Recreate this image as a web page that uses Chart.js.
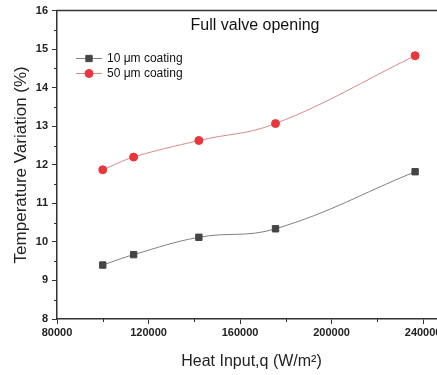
<!DOCTYPE html>
<html>
<head>
<meta charset="utf-8">
<script src="https://cdn.jsdelivr.net/npm/chart.js@4/dist/chart.umd.min.js"></script>
<style>
html, body { margin: 0; padding: 0; background: #fff; overflow: hidden; }
#clip { width: 437px; height: 375px; overflow: hidden; position: relative; }
#wrap { width: 470px; height: 375px; position: absolute; left: 0; top: 0; }
</style>
</head>
<body>
<div id="clip"><div id="wrap"><canvas id="c"></canvas></div></div>
<script>
// ---- data ----
const heatInput = [100000, 113500, 142000, 175500, 236500];
const coating10 = [9.40, 9.67, 10.12, 10.34, 11.82];
const coating50 = [11.87, 12.20, 12.63, 13.07, 14.83];
const seriesNames = ['10 μm coating', '50 μm coating'];
const xTicks = [80000, 120000, 160000, 200000, 240000];
const xMinor = [100000, 140000, 180000, 220000];
const yTicks = [8, 9, 10, 11, 12, 13, 14, 15, 16];
const yMinor = [8.5, 9.5, 10.5, 11.5, 12.5, 13.5, 14.5, 15.5];
const chartTitle = 'Full valve opening';
const xTitle = 'Heat Input,q (W/m²)';
const yTitle = 'Temperature Variation (%)';

const FONT = '"Liberation Sans", Arial, sans-serif';
const AXIS = '#333';
const RED = '#e8363c';
const RED_LINE = '#d98a8c';
const DARK = '#454545';
const DARK_LINE = '#808080';

const toPts = (xs, ys) => xs.map((v, i) => ({ x: v, y: ys[i] }));

const decor = {
  id: 'decor',
  afterDraw(chart) {
    const { ctx, chartArea: a, scales: { x, y } } = chart;
    ctx.save();
    // top frame line
    ctx.strokeStyle = AXIS;
    ctx.lineWidth = 1.5;
    ctx.beginPath();
    ctx.moveTo(a.left - 0.75, a.top);
    ctx.lineTo(a.right, a.top);
    ctx.stroke();
    // minor ticks
    ctx.lineWidth = 1;
    ctx.beginPath();
    xMinor.forEach(v => {
      const px = Math.round(x.getPixelForValue(v)) + 0.5;
      ctx.moveTo(px, a.bottom);
      ctx.lineTo(px, a.bottom + 3);
    });
    yMinor.forEach(v => {
      const py = Math.round(y.getPixelForValue(v)) + 0.5;
      ctx.moveTo(a.left, py);
      ctx.lineTo(a.left - 3, py);
    });
    ctx.stroke();
    // title inside plot
    ctx.fillStyle = '#111';
    ctx.font = '16px ' + FONT;
    ctx.textAlign = 'center';
    ctx.textBaseline = 'middle';
    ctx.fillText(chartTitle, 255, 26);
    // legend
    ctx.font = '12px ' + FONT;
    ctx.textAlign = 'left';
    const rows = [
      { name: seriesNames[0], y: 58, line: DARK_LINE, fill: DARK, style: 'rect', r: 4.5 },
      { name: seriesNames[1], y: 73, line: RED_LINE, fill: RED, style: 'circle', r: 4 }
    ];
    rows.forEach(r => {
      ctx.strokeStyle = r.line;
      ctx.lineWidth = 1;
      ctx.beginPath();
      ctx.moveTo(76, r.y + 0.5);
      ctx.lineTo(102, r.y + 0.5);
      ctx.stroke();
      ctx.fillStyle = r.fill;
      ctx.strokeStyle = r.fill;
      Chart.helpers.drawPoint(ctx, { pointStyle: r.style, radius: r.r, borderWidth: 1, rotation: 0 }, 89, r.y + 0.5);
      ctx.fillStyle = '#111';
      ctx.fillText(r.name, 107, r.y + 1);
    });
    ctx.restore();
  }
};

new Chart(document.getElementById('c'), {
  type: 'line',
  data: {
    datasets: [
      {
        label: seriesNames[0],
        data: toPts(heatInput, coating10),
        borderColor: DARK_LINE,
        borderWidth: 1,
        backgroundColor: DARK,
        pointBackgroundColor: DARK,
        pointBorderColor: DARK,
        pointStyle: 'rect',
        pointRadius: 4.5,
        pointBorderWidth: 1,
        tension: 0.4,
        fill: false
      },
      {
        label: seriesNames[1],
        data: toPts(heatInput, coating50),
        borderColor: RED_LINE,
        borderWidth: 1,
        backgroundColor: RED,
        pointBackgroundColor: RED,
        pointBorderColor: RED,
        pointStyle: 'circle',
        pointRadius: 4,
        pointBorderWidth: 1,
        tension: 0.4,
        fill: false
      }
    ]
  },
  options: {
    responsive: true,
    maintainAspectRatio: false,
    devicePixelRatio: 1,
    animation: false,
    layout: { padding: { left: 0, top: 6, right: 24, bottom: 0 } },
    plugins: {
      legend: { display: false },
      title: { display: false },
      tooltip: { enabled: false }
    },
    scales: {
      x: {
        type: 'linear',
        min: 80000,
        max: 250000,
        afterBuildTicks: s => { s.ticks = xTicks.map(v => ({ value: v })); },
        afterFit: s => { s.height = 56; },
        grid: { drawOnChartArea: false, drawTicks: true, tickLength: 5, tickColor: AXIS, tickWidth: 1 },
        border: { display: true, color: AXIS, width: 1.5 },
        ticks: {
          autoSkip: false,
          maxRotation: 0,
          padding: 2,
          color: '#222',
          font: { family: FONT, size: 11, weight: 'bold' },
          callback: v => String(v)
        },
        title: {
          display: true,
          text: xTitle,
          color: '#222',
          font: { family: FONT, size: 16 },
          padding: { top: 0, bottom: 3.5 }
        }
      },
      y: {
        type: 'linear',
        min: 8,
        max: 16,
        afterBuildTicks: s => { s.ticks = yTicks.map(v => ({ value: v })); },
        afterFit: s => { s.width = 57; },
        grid: { drawOnChartArea: false, drawTicks: true, tickLength: 5, tickColor: AXIS, tickWidth: 1 },
        border: { display: true, color: AXIS, width: 1.5 },
        ticks: {
          autoSkip: false,
          padding: 4,
          color: '#222',
          font: { family: FONT, size: 11, weight: 'bold' },
          callback: v => String(v)
        },
        title: {
          display: true,
          text: yTitle,
          color: '#222',
          font: { family: FONT, size: 17 },
          padding: { top: 11, bottom: 0 }
        }
      }
    }
  },
  plugins: [decor]
});
</script>
</body>
</html>
